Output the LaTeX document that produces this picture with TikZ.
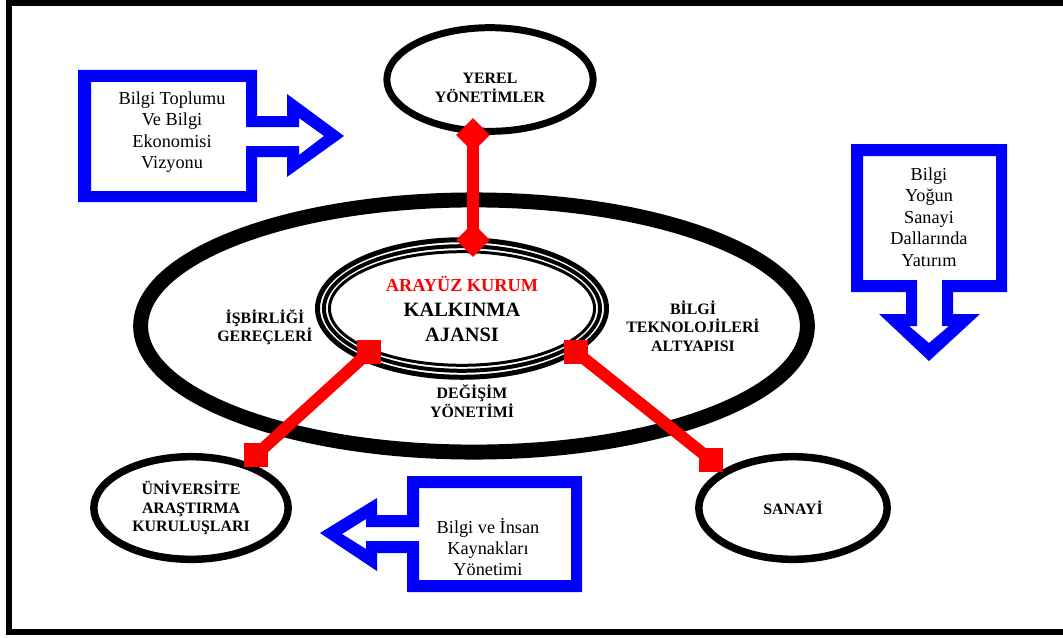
\documentclass[tikz,border=0pt]{standalone}
\usepackage{fontspec}
\setmainfont{Liberation Serif}
\usetikzlibrary{positioning,shapes.geometric}
\newdimen\pw \pw=0.7087pt

\begin{document}
\begin{tikzpicture}[x=0.025cm, y=-0.025cm,
  ellbox/.style={ellipse, draw=black, inner sep=0pt, outer sep=0pt},
  boldtxt/.style={align=center, font=\bfseries\fontsize{11.3}{13.1}\selectfont},
  plaintxt/.style={align=center, font=\fontsize{13}{15.2}\selectfont},
  reddia/.style={diamond, fill=red, inner sep=0pt, outer sep=0pt, minimum size=34\pw},
  redsq/.style={rectangle, fill=red, inner sep=0pt, outer sep=0pt, minimum size=25\pw},
  redline/.style={draw=red, line width=12\pw},
  bluearrow/.style={fill=blue, even odd rule}]
  \useasboundingbox (0,0) rectangle (1063,637);

  % Frame
  \draw[line width=6\pw] (1080,3) -- (9,3) -- (9,632) -- (1080,632);

  % Blue arrows
  \fill[bluearrow] (78,70) -- (257,70) -- (257,116) -- (287,116) -- (287,94) -- (344,136)
    -- (287,177) -- (287,157) -- (257,157) -- (257,202) -- (78,202) -- cycle
    (91,82) -- (246,82) -- (246,127) -- (299,127) -- (299,118) -- (324,136)
    -- (299,155) -- (299,146) -- (246,146) -- (246,191) -- (91,191) -- cycle;
  \fill[bluearrow] (851,144) -- (1007,144) -- (1007,292) -- (953,292) -- (953,314) -- (980,314)
    -- (929,361) -- (879,314) -- (906,314) -- (906,292) -- (851,292) -- cycle
    (863,156) -- (996,156) -- (996,280) -- (942,280) -- (942,326) -- (949,326)
    -- (929,343) -- (909,326) -- (917,326) -- (917,280) -- (863,280) -- cycle;
  \fill[bluearrow] (407,476) -- (582,476) -- (582,592) -- (407,592) -- (407,553) -- (377,553)
    -- (377,571) -- (320,533) -- (377,498) -- (377,515) -- (407,515) -- cycle
    (419,488) -- (571,488) -- (571,580) -- (419,580) -- (419,541) -- (366,541)
    -- (366,549) -- (342,534) -- (366,519) -- (366,527) -- (419,527) -- cycle;

  \node[plaintxt] (vision) at (172,132) {Bilgi Toplumu\\Ve Bilgi\\Ekonomisi\\Vizyonu};
  \node[plaintxt] (invest) at (929,217) {Bilgi\\Yoğun\\Sanayi\\Dallarında\\Yatırım};
  \node[plaintxt] (hr) at (488,547) {Bilgi ve İnsan\\Kaynakları\\Yönetimi};

  % Ellipses
  \node[ellbox, line width=15\pw, minimum width=669\pw, minimum height=253\pw] (field) at (474,326) {};
  \foreach \r/\w [count=\i] in {2.5/5, 9/4, 14.5/3}
    \node[ellbox, line width=\w\pw, minimum width={(295-2*\r)*\pw}, minimum height={(143-2*\r)*\pw}] (agency-\i) at (462,308.5) {};
  \node[ellbox, line width=7\pw, minimum width=207\pw, minimum height=104\pw] (local) at (490,79.5) {};
  \node[ellbox, line width=7.5\pw, minimum width=195\pw, minimum height=103\pw, boldtxt] (univ) at (191,508) {ÜNİVERSİTE\\ARAŞTIRMA\\KURULUŞLARI};
  \node[ellbox, line width=7.5\pw, minimum width=189\pw, minimum height=103\pw, boldtxt] (industry) at (793,508) {SANAYİ};

  % Labels
  \node[boldtxt] (local-txt) at (490,88) {YEREL\\YÖNETİMLER};
  \node[boldtxt] (coop) at (265,327) {İŞBİRLİĞİ\\GEREÇLERİ};
  \node[boldtxt] (infra) at (693,326) {BİLGİ\\TEKNOLOJİLERİ\\ALTYAPISI};
  \node[boldtxt] (change) at (472,401) {DEĞİŞİM\\YÖNETİMİ};
  \node[align=center, font=\bfseries\fontsize{14.5}{17.5}\selectfont] (agency-txt) at (462,309)
    {{\color{red}\fontsize{13}{17.5}\selectfont ARAYÜZ KURUM}\\KALKINMA\\AJANSI};

  % Red links
  \node[reddia] (dia-1) at (473,135) {};
  \node[reddia] (dia-2) at (473,240) {};
  \node[redsq] (sq-1) at (369,352) {};
  \node[redsq] (sq-2) at (256,455) {};
  \node[redsq] (sq-3) at (576,352) {};
  \node[redsq] (sq-4) at (711,460) {};

  \draw[redline] (dia-1.center) -- (dia-2.center);
  \draw[redline] (sq-1.center) -- (sq-2.center);
  \draw[redline] (sq-3.center) -- (sq-4.center);

\end{tikzpicture}
\end{document}
